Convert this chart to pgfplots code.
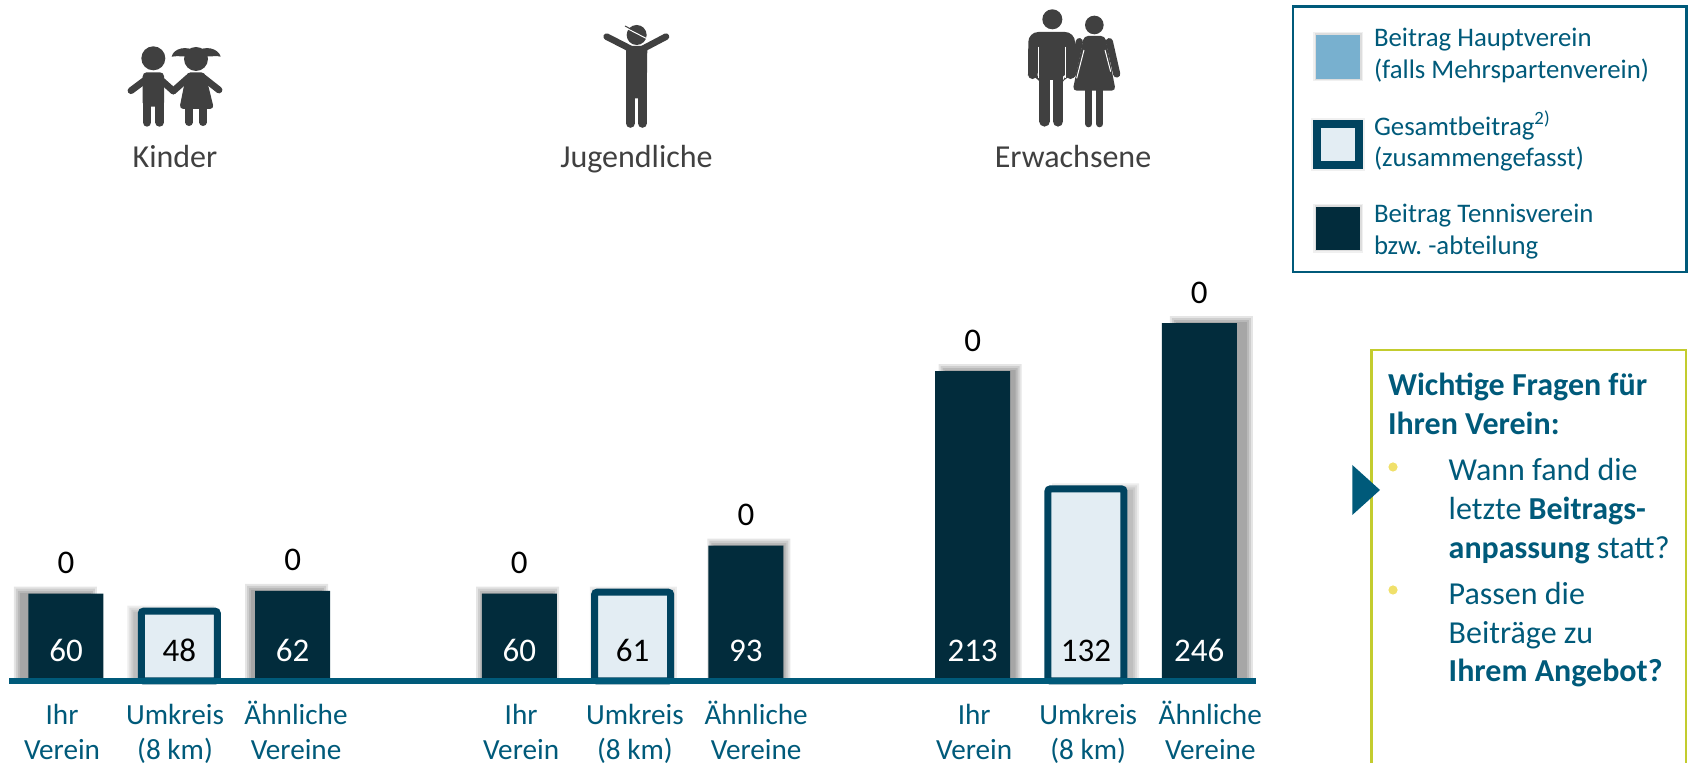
\documentclass[border=0pt]{standalone}
\usepackage{fontspec}
\setmainfont{Carlito}
\usepackage{pgfplots}
\usepackage{pgfplotstable}
\pgfplotsset{compat=1.18}
\definecolor{darkbar}{HTML}{022C3C}
\definecolor{lightfill}{HTML}{E3EDF3}
\definecolor{lightedge}{HTML}{00435F}
\definecolor{teal}{HTML}{005A7A}
\definecolor{hauptblue}{HTML}{78B0CF}
\definecolor{icon}{HTML}{404040}
\definecolor{olive}{HTML}{C3CC2E}
\definecolor{bullet}{HTML}{F0E06A}
\pgfplotstableread{
x tennis hauptverein
0 60 0
2 62 0
4 60 0
6 93 0
8 213 0
10 246 0
}\darkdata
\pgfplotstableread{
x gesamt
1 48
5 61
9 132
}\lightdata
\newcommand{\T}[4]{\node[anchor=#3,inner sep=0pt,outer sep=0pt] at (#1,#2) {#4};}
\newcommand{\Ph}{\vphantom{Ä}}
\begin{document}
\begin{tikzpicture}
\path[use as bounding box] (0,0) rectangle (844pt,381.5pt);
\clip (0,0) rectangle (844pt,381.5pt);
\begin{axis}[
  at={(33pt,41pt)}, anchor=origin,
  scale only axis, width=623.3pt, height=189.15pt,
  xmin=-0.5, xmax=10.5, ymin=0, ymax=260,
  clip=false, axis on top=true,
  axis x line=bottom, axis y line=none,
  axis line style={line width=3pt,color=teal,-},
  xtick={-0.035,0.962,2.03,4.016,5.02,6.09,8.014,9.02,10.097},
  xticklabels={{\Ph Ihr\\Verein},{\Ph Umkreis\\(8 km)},{\Ph Ähnliche\\Vereine},{\Ph Ihr\\Verein},{\Ph Umkreis\\(8 km)},{\Ph Ähnliche\\Vereine},{\Ph Ihr\\Verein},{\Ph Umkreis\\(8 km)},{\Ph Ähnliche\\Vereine}},
  xticklabel style={align=center,text=teal,font=\fontsize{14.6}{17.5}\selectfont,inner sep=0pt,anchor=north,yshift=-10pt},
  major tick length=0pt, ytick=\empty,
]
% soft shadows
\pgfplotsinvokeforeach{4,2,0,-2}{
  \addplot[ybar,forget plot,bar width={37.5pt+#1pt},fill=black,draw=none,fill opacity=0.10]
    table[x expr={\thisrow{x}+(\thisrow{x}-4.7)/50},y expr={\thisrow{tennis}+2+#1*0.7}] {\darkdata};
  \addplot[ybar,forget plot,bar width={39.5pt+#1pt},fill=black,draw=none,fill opacity=0.07]
    table[x expr={\thisrow{x}+(\thisrow{x}-4.7)/50},y expr={\thisrow{gesamt}+1+#1*0.7}] {\lightdata};
}
% bars
\addplot[ybar,bar width=37.5pt,fill=darkbar,draw=none] table[x=x,y=tennis] {\darkdata};
\addplot[ybar,bar width=38pt,fill=lightfill,draw=lightedge,line width=3.5pt,rounded corners=1.2pt] table[x=x,y=gesamt] {\lightdata};
% values inside the bars
\addplot[draw=none,mark=none,nodes near coords,point meta=explicit symbolic,
  every node near coord/.style={anchor=base,inner sep=0pt,text=white,font=\fontsize{16.5}{18}\selectfont}]
  table[x=x,y expr=13.3,meta=tennis] {\darkdata};
\addplot[draw=none,mark=none,nodes near coords,point meta=explicit symbolic,
  every node near coord/.style={anchor=base,inner sep=0pt,text=black,font=\fontsize{16.5}{18}\selectfont}]
  table[x=x,y expr=13.3,meta=gesamt] {\lightdata};
% Hauptverein values on top of the stack
\addplot[draw=none,mark=none,nodes near coords,point meta=explicit symbolic,
  every node near coord/.style={anchor=base,inner sep=0pt,yshift=10pt,text=black,font=\fontsize{16.5}{18}\selectfont}]
  table[x=x,y expr={\thisrow{tennis}+\thisrow{hauptverein}},meta=hauptverein] {\darkdata};
\end{axis}
\begin{scope}[yshift=381.5pt,x=0.5pt,y=-0.5pt]
% group titles
\begin{scope}[font=\fontsize{16}{18}\selectfont,text=icon]
\T{175}{167.5}{base}{Kinder}
\T{636.5}{167.5}{base}{Jugendliche}
\T{1073}{167.5}{base}{Erwachsene}
\end{scope}
% Kinder icon
\begin{scope}[shift={(120,35)},x=0.16667pt,y=-0.16667pt,fill=icon,draw=icon]
\fill (100,70) circle (36);
\fill (228,72) circle (36);
\fill (228,50) .. controls (200,30) and (160,40) .. (155,65) .. controls (175,60) and (200,70) .. (228,60) -- cycle;
\fill (228,50) .. controls (256,30) and (295,40) .. (302,65) .. controls (282,60) and (256,70) .. (228,60) -- cycle;
\draw[line width=3.4pt,line cap=round] (85,128) -- (33,167);
\draw[line width=3.4pt,line cap=round] (115,128) -- (160,168);
\draw[line width=3.4pt,line cap=round] (205,128) -- (160,168);
\draw[line width=3.4pt,line cap=round] (250,128) -- (297,165);
\fill[rounded corners=2pt] (68,112) -- (132,112) -- (132,215) -- (68,215) -- cycle;
\draw[line width=4.4pt,line cap=round] (81,200) -- (81,262);
\draw[line width=4.4pt,line cap=round] (119,200) -- (119,262);
\fill[rounded corners=2pt] (200,112) -- (255,112) -- (282,222) -- (178,222) -- cycle;
\draw[line width=3.7pt,line cap=round] (207,210) -- (207,262);
\draw[line width=3.7pt,line cap=round] (249,210) -- (249,262);
\end{scope}
% Jugendliche icon
\begin{scope}[shift={(590,15)},x=0.16667pt,y=-0.16667pt,fill=icon,draw=icon]
\fill (140,60) circle (30);
\draw[white,line width=0.5pt] (110,40) -- (172,72);
\draw[icon,line width=0.5pt] (105,33) -- (122,42);
\draw[line width=3.3pt,line cap=round] (128,105) -- (50,65);
\draw[line width=3.3pt,line cap=round] (152,105) -- (228,65);
\fill (108,93) -- (172,93) -- (170,250) -- (108,250) -- cycle;
\draw[line width=4.5pt,line cap=round] (121,230) -- (121,325);
\draw[line width=4.5pt,line cap=round] (157,230) -- (157,325);
\end{scope}
% Erwachsene icon
\begin{scope}[shift={(1010,0)},x=0.16667pt,y=-0.16667pt,fill=icon,draw=icon]
\fill (127,58) circle (30);
\fill (253,75) circle (28);
\fill[rounded corners=5pt] (55,96) -- (195,96) -- (195,225) -- (168,225) -- (160,240) -- (88,240) -- (82,225) -- (55,225) -- cycle;
\draw[line width=4.4pt,line cap=round] (68,150) -- (68,224);
\draw[line width=4.4pt,line cap=round] (182,150) -- (182,224);
\draw[line width=5.3pt,line cap=round] (104,230) -- (104,364);
\draw[line width=5.3pt,line cap=round] (144,230) -- (144,364);
\draw[white,line width=0.5pt] (85,140) -- (85,235);
\draw[white,line width=0.5pt] (165,140) -- (165,235);
\draw[line width=3.6pt,line cap=round] (298,125) -- (320,222);
\draw[line width=3.6pt,line cap=round] (208,125) -- (188,222);
\fill[rounded corners=2pt] (222,108) -- (285,108) -- (317,272) -- (188,272) -- cycle;
\draw[white,line width=0.5pt] (222,150) -- (200,235);
\draw[white,line width=0.5pt] (285,150) -- (302,215);
\draw[line width=3.7pt,line cap=round] (236,265) -- (236,371);
\draw[line width=3.7pt,line cap=round] (269,265) -- (269,371);
\end{scope}
% legend
\draw[teal,line width=1.3pt] (1293,6.5) rectangle (1686.5,272);
\fill[black,opacity=0.06] (1313,32) rectangle (1363,81);
\fill[black,opacity=0.08] (1314.5,33.5) rectangle (1361.5,80);
\fill[hauptblue] (1316,35) rectangle (1360,78.7);
\fill[black,opacity=0.06] (1311,118) rectangle (1365,171);
\fill[lightedge] (1313.4,120.3) rectangle (1362.6,169);
\fill[lightfill] (1321,128.3) rectangle (1354.5,161);
\fill[black,opacity=0.06] (1313,204) rectangle (1363,253);
\fill[black,opacity=0.08] (1314.5,205.5) rectangle (1361.5,251.5);
\fill[darkbar] (1316,207) rectangle (1360,250);
\begin{scope}[font=\fontsize{13.4}{15}\selectfont,text=teal]
\T{1374}{47}{base west}{Beitrag Hauptverein}
\T{1374}{78.7}{base west}{(falls Mehrspartenverein)}
\T{1374}{135.3}{base west}{Gesamtbeitrag\textsuperscript{2)}}
\T{1374}{167}{base west}{(zusammengefasst)}
\T{1374}{223}{base west}{Beitrag Tennisverein}
\T{1374}{255}{base west}{bzw.\ -abteilung}
\end{scope}
% questions box
\draw[olive,line width=1.3pt] (1371.5,770) -- (1371.5,350) -- (1686,350) -- (1686,770);
\fill[teal] (1352.3,465) -- (1380,490) -- (1352.3,515) -- cycle;
\fill[bullet] (1393,467) circle (4.6);
\fill[bullet] (1393,590) circle (4.6);
\begin{scope}[font=\fontsize{16}{18}\selectfont,text=teal]
\T{1388}{396}{base west}{\textbf{Wichtige Fragen für}}
\T{1388}{435}{base west}{\textbf{Ihren Verein:}}
\T{1448.7}{481}{base west}{Wann fand die}
\T{1448.7}{520}{base west}{letzte \textbf{Beitrags-}}
\T{1448.7}{559}{base west}{\textbf{anpassung} statt?}
\T{1448.7}{604.5}{base west}{Passen die}
\T{1448.7}{643.5}{base west}{Beiträge zu}
\T{1448.7}{681.8}{base west}{\textbf{Ihrem Angebot?}}
\end{scope}
\end{scope}
\end{tikzpicture}
\end{document}
